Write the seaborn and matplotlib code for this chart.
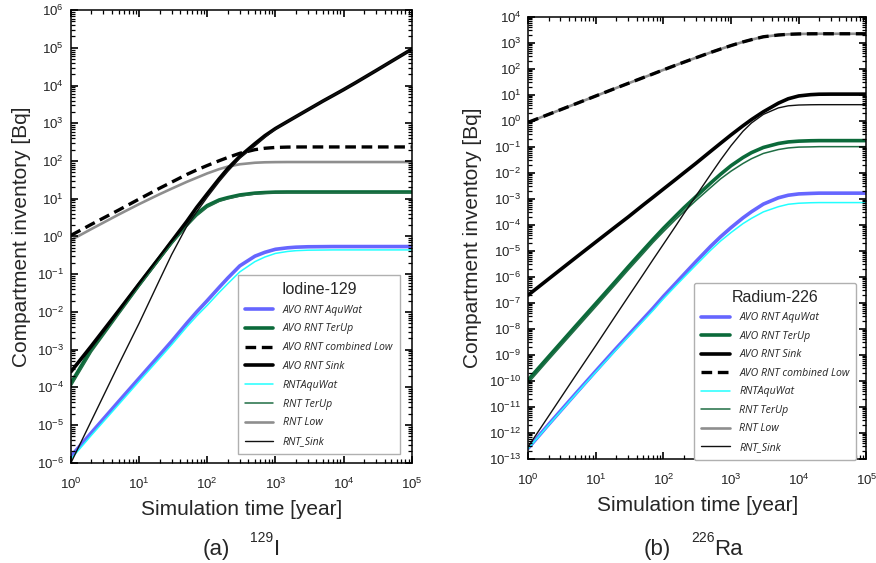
import math
import matplotlib
matplotlib.use("Agg")
import matplotlib.pyplot as plt
import seaborn as sns
from matplotlib.collections import LineCollection
from matplotlib.ticker import NullFormatter, FuncFormatter, FixedLocator

# ---------------------------------------------------------------- data
time_years = [1, 2, 5, 10, 20, 30, 50, 70, 100, 150, 200, 300, 500, 700, 1000,
              1500, 2000, 3000, 5000, 7000, 10000, 15000, 20000, 30000, 50000, 100000]

# Iodine-129 compartment inventories [Bq]
i129_avo_aquwat = [1.48e-6, 6.3e-6, 4.2e-5, 1.74e-4, 7.2e-4, 1.66e-3, 5.0e-3, 1.0e-2, 2.0e-2,
                   4.5e-2, 7.9e-2, 0.166, 0.3, 0.38, 0.457, 0.5, 0.52, 0.533, 0.537,
                   0.54, 0.54, 0.54, 0.54, 0.54, 0.54, 0.54]
i129_avo_terup = [1.29e-4, 1.05e-3, 1.0e-2, 5.4e-2, 0.275, 0.71, 2.1, 4.0, 6.6,
                  9.3, 10.7, 12.6, 14.1, 14.6, 15.0, 15.1, 15.1, 15.1, 15.1,
                  15.1, 15.1, 15.1, 15.1, 15.1, 15.1, 15.1]
i129_avo_low = [1.07, 2.1, 5.0, 9.8, 19, 27.5, 44, 58, 76,
                102, 124, 160, 200, 218, 229, 234, 235.5, 236, 236,
                236, 236, 236, 236, 236, 236, 236]
i129_avo_sink = [2.6e-4, 1.26e-3, 1.07e-2, 5.5e-2, 0.28, 0.74, 2.5, 5.9, 13.5,
                 34, 63, 132, 288, 468, 725, 1110, 1500, 2290, 3900,
                 5450, 7800, 1.19e4, 1.62e4, 2.5e4, 4.35e4, 9.2e4]
i129_rnt_aquwat = [1.26e-6, 5.4e-6, 3.5e-5, 1.45e-4, 5.9e-4, 1.35e-3, 4.0e-3, 7.8e-3, 1.5e-2,
                   3.3e-2, 5.6e-2, 0.115, 0.215, 0.285, 0.355, 0.4, 0.42, 0.433, 0.437,
                   0.44, 0.44, 0.44, 0.44, 0.44, 0.44, 0.44]
i129_rnt_terup = [1.07e-4, 8.7e-4, 8.5e-3, 4.7e-2, 0.245, 0.63, 1.85, 3.5, 5.9,
                  8.5, 9.9, 11.7, 13.3, 13.9, 14.3, 14.5, 14.5, 14.5, 14.5,
                  14.5, 14.5, 14.5, 14.5, 14.5, 14.5, 14.5]
i129_rnt_low = [0.8, 1.58, 3.8, 7.2, 13.2, 18.5, 28, 36, 47,
                61, 71, 82, 90, 92.5, 93.5, 94, 94, 94, 94,
                94, 94, 94, 94, 94, 94, 94]
i129_rnt_sink = [1.0e-6, 1.32e-5, 4.0e-4, 5.0e-3, 7.1e-2, 0.33, 1.86, 4.5, 11.0,
                 28.5, 53, 118, 251, 420, 700, 1110, 1500, 2290, 3900,
                 5450, 7800, 1.19e4, 1.62e4, 2.5e4, 4.35e4, 9.2e4]

# Radium-226 compartment inventories [Bq]
ra226_avo_aquwat = [2.57e-13, 2.1e-12, 3.16e-11, 2.4e-10, 1.78e-9, 5.6e-9, 2.4e-8, 6.2e-8, 1.78e-7,
                    5.5e-7, 1.23e-6, 3.8e-6, 1.51e-5, 3.5e-5, 7.9e-5, 1.86e-4, 3.2e-4, 6.3e-4,
                    1.1e-3, 1.38e-3, 1.55e-3, 1.62e-3, 1.66e-3, 1.66e-3, 1.66e-3, 1.66e-3]
ra226_avo_terup = [1.1e-10, 8.5e-10, 1.26e-8, 9.5e-8, 7.2e-7, 2.4e-6, 1.05e-5, 2.75e-5, 7.4e-5,
                   2.14e-4, 4.5e-4, 1.2e-3, 4.1e-3, 8.9e-3, 1.9e-2, 3.9e-2, 6.0e-2, 9.5e-2,
                   0.135, 0.155, 0.166, 0.172, 0.174, 0.174, 0.174, 0.174]
ra226_avo_sink = [2.0e-7, 8.3e-7, 5.4e-6, 2.2e-5, 8.9e-5, 2.0e-4, 5.8e-4, 1.15e-3, 2.4e-3,
                  5.5e-3, 1.0e-2, 2.3e-2, 6.8e-2, 0.138, 0.29, 0.65, 1.12, 2.24,
                  4.8, 7.1, 9.1, 10.2, 10.6, 10.7, 10.7, 10.7]
ra226_avo_low = [0.88, 1.78, 4.5, 9.1, 18.4, 27.6, 46, 64, 92,
                 137, 181, 266, 430, 580, 790, 1090, 1330, 1720,
                 2010, 2140, 2210, 2238, 2245, 2245, 2245, 2245]
ra226_rnt_aquwat = [2.5e-13, 2.0e-12, 2.95e-11, 2.2e-10, 1.58e-9, 4.9e-9, 2.0e-8, 5.1e-8, 1.45e-7,
                    4.4e-7, 9.5e-7, 2.8e-6, 1.07e-5, 2.4e-5, 5.1e-5, 1.12e-4, 1.78e-4, 3.16e-4,
                    5.0e-4, 6.2e-4, 6.8e-4, 7.1e-4, 7.2e-4, 7.2e-4, 7.2e-4, 7.2e-4]
ra226_rnt_terup = [8.3e-11, 6.5e-10, 9.5e-9, 7.2e-8, 5.5e-7, 1.82e-6, 7.9e-6, 2.1e-5, 5.5e-5,
                   1.58e-4, 3.2e-4, 8.5e-4, 2.75e-3, 5.9e-3, 1.17e-2, 2.3e-2, 3.5e-2, 5.6e-2,
                   7.9e-2, 9.1e-2, 9.8e-2, 0.1, 0.102, 0.102, 0.102, 0.102]
ra226_rnt_low = [0.88, 1.78, 4.5, 9.1, 18.4, 27.6, 46, 64, 92,
                 137, 181, 266, 430, 580, 790, 1090, 1330, 1720,
                 2010, 2140, 2210, 2238, 2245, 2245, 2245, 2245]
ra226_rnt_sink = [2.95e-13, 4.4e-12, 1.58e-10, 2.3e-9, 3.5e-8, 1.7e-7, 1.23e-6, 4.6e-6, 1.82e-5,
                  8.7e-5, 2.7e-4, 1.26e-3, 8.9e-3, 3.16e-2, 0.112, 0.4, 0.83, 1.78,
                  3.16, 3.8, 4.07, 4.17, 4.2, 4.2, 4.2, 4.2]

# ---------------------------------------------------------------- style
sns.set_theme(style="ticks", rc={"axes.axisbelow": False})
plt.rcParams["font.family"] = ["Liberation Sans", "DejaVu Sans"]
plt.rcParams["mathtext.fontset"] = "custom"
plt.rcParams["mathtext.rm"] = "Lato"
plt.rcParams["mathtext.it"] = "Lato:italic"

BLUE = "#6666ff"
GREEN = "#0b6a3a"
GREEN_THIN = "#1f6e44"
CYAN = "#22ffff"
GRAY = "#8e8e8e"

styles = {
    "AVO RNT AquWat": dict(color=BLUE, lw=2.6),
    "AVO RNT TerUp": dict(color=GREEN, lw=2.6),
    "AVO RNT combined Low": dict(color="black", lw=2.4, dashes=(3.2, 1.7)),
    "AVO RNT Sink": dict(color="black", lw=2.6),
    "RNTAquWat": dict(color=CYAN, lw=1.1),
    "RNT TerUp": dict(color=GREEN_THIN, lw=1.1),
    "RNT Low": dict(color=GRAY, lw=1.9),
    "RNT_Sink": dict(color="#111111", lw=1.0),
}

fig = plt.figure(figsize=(8.76, 5.63), dpi=100)
ax_i = fig.add_axes([0.081, 0.178, 0.389, 0.804])
ax_r = fig.add_axes([0.603, 0.185, 0.386, 0.785])


def draw(ax, series, zorders):
    for name, values in series.items():
        st = dict(styles[name])
        dashes = st.pop("dashes", None)
        sns.lineplot(x=time_years, y=values, ax=ax, label=name,
                     zorder=zorders[name], **st)
        if dashes is not None:
            ax.lines[-1].set_dashes(dashes)


def decade_label(v, pos):
    return r"$\mathregular{10^{%d}}$" % round(math.log10(v))


def tick_marks(ax, values, along, length_px, width):
    """Short inward marks at the given tick values on both opposite spines."""
    if along == "x":
        frac = length_px / ax.bbox.height
        trans = ax.get_xaxis_transform()
        segs = [[(v, 0), (v, frac)] for v in values] + \
               [[(v, 1 - frac), (v, 1)] for v in values]
    else:
        frac = length_px / ax.bbox.width
        trans = ax.get_yaxis_transform()
        segs = [[(0, v), (frac, v)] for v in values] + \
               [[(1 - frac, v), (1, v)] for v in values]
    lc = LineCollection(segs, colors="black", linewidths=width,
                        transform=trans, clip_on=False, zorder=6)
    ax.add_collection(lc, autolim=False)


def dress(ax, lo_exp, hi_exp):
    ax.set_xscale("log")
    ax.set_yscale("log")
    ax.set_xlim(1, 1e5)
    ax.set_ylim(10.0 ** lo_exp, 10.0 ** hi_exp)
    x_major = [10.0 ** k for k in range(0, 6)]
    y_major = [10.0 ** k for k in range(lo_exp, hi_exp + 1)]
    x_minor = [m * 10.0 ** k for k in range(0, 5) for m in range(2, 10)]
    y_minor = [m * 10.0 ** k for k in range(lo_exp, hi_exp) for m in range(2, 10)]
    ax.xaxis.set_major_locator(FixedLocator(x_major))
    ax.yaxis.set_major_locator(FixedLocator(y_major))
    ax.xaxis.set_minor_locator(FixedLocator([]))
    ax.yaxis.set_minor_locator(FixedLocator([]))
    ax.xaxis.set_minor_formatter(NullFormatter())
    ax.yaxis.set_minor_formatter(NullFormatter())
    ax.xaxis.set_major_formatter(FuncFormatter(decade_label))
    ax.yaxis.set_major_formatter(FuncFormatter(decade_label))
    ax.tick_params(which="both", direction="in", length=0,
                   top=False, right=False)
    ax.tick_params(which="major", labelsize=9.5, labelcolor="#222222")
    ax.tick_params(axis="x", which="major", pad=10)
    ax.tick_params(axis="y", which="major", pad=5)
    for sp in ax.spines.values():
        sp.set_visible(True)
        sp.set_color("black")
        sp.set_linewidth(1.1)
        sp.set_zorder(6)
    tick_marks(ax, x_major, "x", 7, 1.2)
    tick_marks(ax, x_minor, "x", 4, 0.9)
    tick_marks(ax, y_major, "y", 7, 1.2)
    tick_marks(ax, y_minor, "y", 4, 0.9)
    ax.set_xlabel("Simulation time [year]", fontsize=15, labelpad=6)
    ax.set_ylabel("Compartment inventory [Bq]", fontsize=15)


iodine = {
    "AVO RNT AquWat": i129_avo_aquwat,
    "AVO RNT TerUp": i129_avo_terup,
    "AVO RNT combined Low": i129_avo_low,
    "AVO RNT Sink": i129_avo_sink,
    "RNTAquWat": i129_rnt_aquwat,
    "RNT TerUp": i129_rnt_terup,
    "RNT Low": i129_rnt_low,
    "RNT_Sink": i129_rnt_sink,
}
radium = {
    "AVO RNT AquWat": ra226_avo_aquwat,
    "AVO RNT TerUp": ra226_avo_terup,
    "AVO RNT Sink": ra226_avo_sink,
    "AVO RNT combined Low": ra226_avo_low,
    "RNTAquWat": ra226_rnt_aquwat,
    "RNT TerUp": ra226_rnt_terup,
    "RNT Low": ra226_rnt_low,
    "RNT_Sink": ra226_rnt_sink,
}
zorders = {
    "AVO RNT AquWat": 3, "AVO RNT TerUp": 3, "AVO RNT combined Low": 4,
    "AVO RNT Sink": 3, "RNTAquWat": 5, "RNT TerUp": 5, "RNT Low": 2, "RNT_Sink": 5,
}

draw(ax_i, iodine, zorders)
draw(ax_r, radium, dict(zorders, **{"RNT Low": 3.5}))

dress(ax_i, -6, 6)
dress(ax_r, -13, 4)
ax_i.yaxis.set_label_coords(-0.116, 0.5)
ax_r.yaxis.set_label_coords(-0.136, 0.5)

leg_font = {"family": ["Open Sans", "DejaVu Sans"], "style": "italic", "size": 7.6}
for ax, title, anchor, fancy, spacing in [(ax_i, "Iodine-129", (0.49, 0.415), False, 0.74),
                                          (ax_r, "Radium-226", (0.491, 0.398), True, 0.71)]:
    leg = ax.legend(loc="upper left", bbox_to_anchor=anchor, borderaxespad=0,
                    title=title, prop=leg_font, title_fontproperties={"size": 11.5},
                    frameon=True, fancybox=fancy, edgecolor="#b0b0b0",
                    framealpha=1, handlelength=2.7, handletextpad=0.9,
                    labelspacing=spacing, borderpad=0.65)
    leg.get_frame().set_linewidth(1.0)
    leg.set_zorder(7)

# panel captions
fig.text(0.2466, 0.014, "(a)", fontsize=16, ha="center", va="baseline")
fig.text(0.299, 0.037, "129", fontsize=10, ha="center", va="baseline")
fig.text(0.3128, 0.014, "I", fontsize=16, ha="left", va="baseline")
fig.text(0.750, 0.014, "(b)", fontsize=16, ha="center", va="baseline")
fig.text(0.8025, 0.037, "226", fontsize=10, ha="center", va="baseline")
fig.text(0.815, 0.014, "Ra", fontsize=16, ha="left", va="baseline")

fig.savefig("out.png", dpi=100)
